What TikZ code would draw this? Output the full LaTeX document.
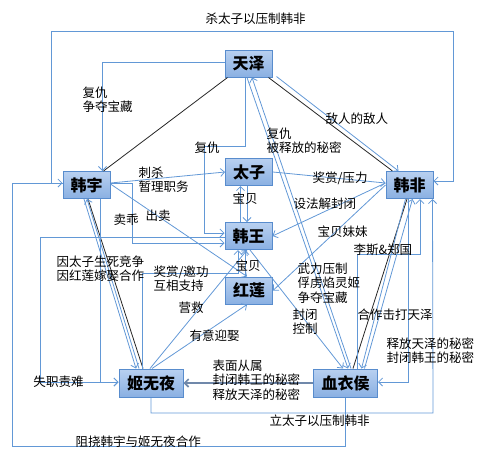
\documentclass[tikz,border=0pt]{standalone}
\usepackage{fontspec}
\setmainfont{Noto Sans CJK SC}
\usetikzlibrary{arrows.meta,calc}

\definecolor{linkblue}{RGB}{98,152,214}
\definecolor{boxline}{RGB}{88,140,205}
\definecolor{boxtop}{RGB}{184,208,240}
\definecolor{boxbot}{RGB}{138,176,226}
\definecolor{heavy}{RGB}{112,136,170}

\tikzset{every picture/.style={line width=0.75pt}}
\tikzset{
  person/.style={draw=boxline,top color=boxtop,bottom color=boxbot,minimum width=35.25pt,minimum height=20.25pt,inner sep=0pt,font=\fontsize{12pt}{12pt}\selectfont\bfseries},
  wideperson/.style={person,minimum width=48pt,minimum height=21pt},
  rel/.style={draw=linkblue,line width=0.6pt,-{Straight Barb[length=3pt,width=6pt]}},
  tie/.style={draw=black!85,line width=0.6pt},
  lbl/.style={anchor=north west,inner sep=0pt,align=left,font=\fontsize{9.4pt}{10.9pt}\selectfont},
}

\begin{document}
\begin{tikzpicture}[x=0.75pt,y=0.75pt,yscale=-1,xscale=1]
\useasboundingbox (0,0) rectangle (479,462);

%Shape: Rectangle
\node[person] (tz) at (248.5,63.5) {天泽};
\node[person] (hy) at (86.5,185) {韩宇};
\node[person] (tzi) at (249,172) {太子};
\node[person] (hw) at (248.5,236) {韩王};
\node[person] (hl) at (249,290.5) {红莲};
\node[person] (hf) at (409.5,185) {韩非};
\node[wideperson] (jwy) at (151,383) {姬无夜};
\node[wideperson] (xyh) at (345.5,383) {血衣侯};

%Straight Lines
\draw[tie] ($(tz.south west)+(3,0)$) -- ($(hy.north east)+(-7,0)$);
\draw[tie] ($(tz.south east)+(-4,0)$) -- ($(hf.north west)+(7,0)$);
\draw[tie] ($(hy.south)+(1.5,0)$) -- ($(jwy.north)+(-8,0)$);
\draw[tie] ($(hf.south)+(-2.5,0)$) -- ($(xyh.north)+(7.5,0)$);

%Elbow connectors
\draw[rel] ($(hy.west)+(0,-2)$) -- ++(-11,0) |- (453,31) |- ($(hf.east)+(0,-4)$);
\draw[rel] (xyh.south) |- (12,446) |- ($(hy.west)+(0,-2)$);
\draw[rel] (jwy.south) |- (433,413) -- ($(hf.south east)+(-1,0)$);
\draw[rel] ($(tz.west)+(0,-1.5)$) -| ($(hy.north east)+(-8,0)$);
\draw[rel] ($(tz.south)+(-3.5,0)$) |- (204,146) |- ($(hw.west)+(0,-3)$);
\draw[rel] ($(hy.east)+(0,-2)$) -| (132,243) -- ($(hw.west)+(0,7)$);
\draw[rel] ($(hy.south west)+(38,0)$) |- ($(jwy.west)+(0,-1)$);
\draw[rel] ($(hw.west)+(0,1)$) -| (40,382) -- ($(jwy.west)+(0,-1)$);
\draw[rel] ($(jwy.north)+(-9,0)$) |- (238,273) -- ($(hw.south)+(-10.5,0)$);
\draw[rel] ($(xyh.north)+(11.5,0)$) |- (420,254) -- ($(hf.south)+(10.5,0)$);
\draw[rel] ($(hf.south)+(-1.5,0)$) |- ($(xyh.east)+(0,-1)$);

%Straight Lines
\draw[rel] ($(hy.east)+(0,-2)$) -- (tzi.west);
\draw[rel] ($(hy.east)+(0,-1)$) -- ($(hl.north)+(-2,0)$);
\draw[rel] (tzi.east) -- ($(hf.west)+(0,-2)$);
\draw[rel] ($(hf.west)+(0,-2)$) -- (hw.east);
\draw[rel] (hf.west) -- (hl.east);
\draw[rel] ($(tz.south east)+(4,-1)$) -- ($(hf.north)+(-11,0)$);
\draw[rel] ($(hw.north)+(-8,0)$) -- ($(tzi.south)+(-8.5,0)$);
\draw[rel] ($(tzi.south)+(-2,0)$) -- ($(hw.north)+(-1.5,0)$);
\draw[rel] ($(hl.north)+(-4,0)$) -- ($(hw.south)+(-3.5,0)$);
\draw[rel] ($(jwy.north)+(-1,0)$) -- ($(hw.south)+(-1.5,0)$);
\draw[rel] ($(jwy.north)+(1,0)$) -- ($(hl.south)+(-2,0)$);
\draw[rel] ($(hy.south)+(-2.5,0)$) -- ($(jwy.north)+(-15,0)$);
\draw[rel] ($(jwy.north)+(-12,0)$) -- ($(hy.south)+(0.5,0)$);
\draw[rel,draw=heavy,line width=1.2pt] (xyh.west) -- (jwy.east);
\draw[rel] ($(tz.south)+(-1.5,0)$) -- ($(xyh.north)+(2.5,0)$);
\draw[rel] ($(xyh.north)+(5.5,0)$) -- ($(tz.south)+(3.5,0)$);
\draw[rel] ($(hw.south)+(1.5,0)$) -- ($(xyh.north)+(-2.5,0)$);
\draw[rel] ($(hf.south)+(-4,0)$) -- ($(xyh.north)+(16,0)$);
\draw[rel] ($(xyh.north)+(19,0)$) -- ($(hf.south)+(3,0)$);

% Text Node
\node[lbl] (tShaTaizi) at (205,12) {杀太子以压制韩非};
\node[lbl] (tFuchou) at (82,86) {复仇\\争夺宝藏};
\node[lbl] (tFuchouB) at (194,141) {复仇};
\node[lbl] (tShifang) at (266,127) {复仇\\被释放的秘密};
\node[lbl] (tDiren) at (325,112) {敌人的敌人};
\node[lbl] (tCisha) at (138,166) {刺杀\\暂理职务};
\node[lbl] (tJiangli) at (312,171) {奖赏/压力};
\node[lbl] (tChumai) at (145,209) {出卖};
\node[lbl] (tMaiguai) at (113,214) {卖乖};
\node[lbl] (tBaobeiA) at (232,192) {宝贝};
\node[lbl] (tJiefeng) at (293,197) {设法解封闭};
\node[lbl] (tMeimei) at (317,225) {宝贝妹妹};
\node[lbl] (tLisi) at (353,243) {李斯\&郑国};
\node[lbl] (tJingzheng) at (56,255) {因太子生死竞争\\因红莲嫁娶合作};
\node[lbl] (tYaogong) at (153,265) {奖赏/邀功\\互相支持};
\node[lbl] (tBaobeiB) at (235,259) {宝贝};
\node[lbl] (tWuli) at (297,262) {武力压制\\俘虏焰灵姬\\争夺宝藏};
\node[lbl] (tYingjiu) at (178,301) {营救};
\node[lbl] (tFengbi) at (292,308) {封闭\\控制};
\node[lbl] (tHezuo) at (357,308) {合作击打天泽};
\node[lbl] (tYingqu) at (189,329) {有意迎娶};
\node[lbl] (tMimi) at (386,337) {释放天泽的秘密\\封闭韩王的秘密};
\node[lbl] (tCongshu) at (212,359) {表面从属\\封闭韩王的秘密\\释放天泽的秘密};
\node[lbl] (tShizhi) at (33,375) {失职责难};
\node[lbl] (tLi) at (269,414) {立太子以压制韩非};
\node[lbl] (tZunao) at (75,435) {阻挠韩宇与姬无夜合作};
\end{tikzpicture}
\end{document}
